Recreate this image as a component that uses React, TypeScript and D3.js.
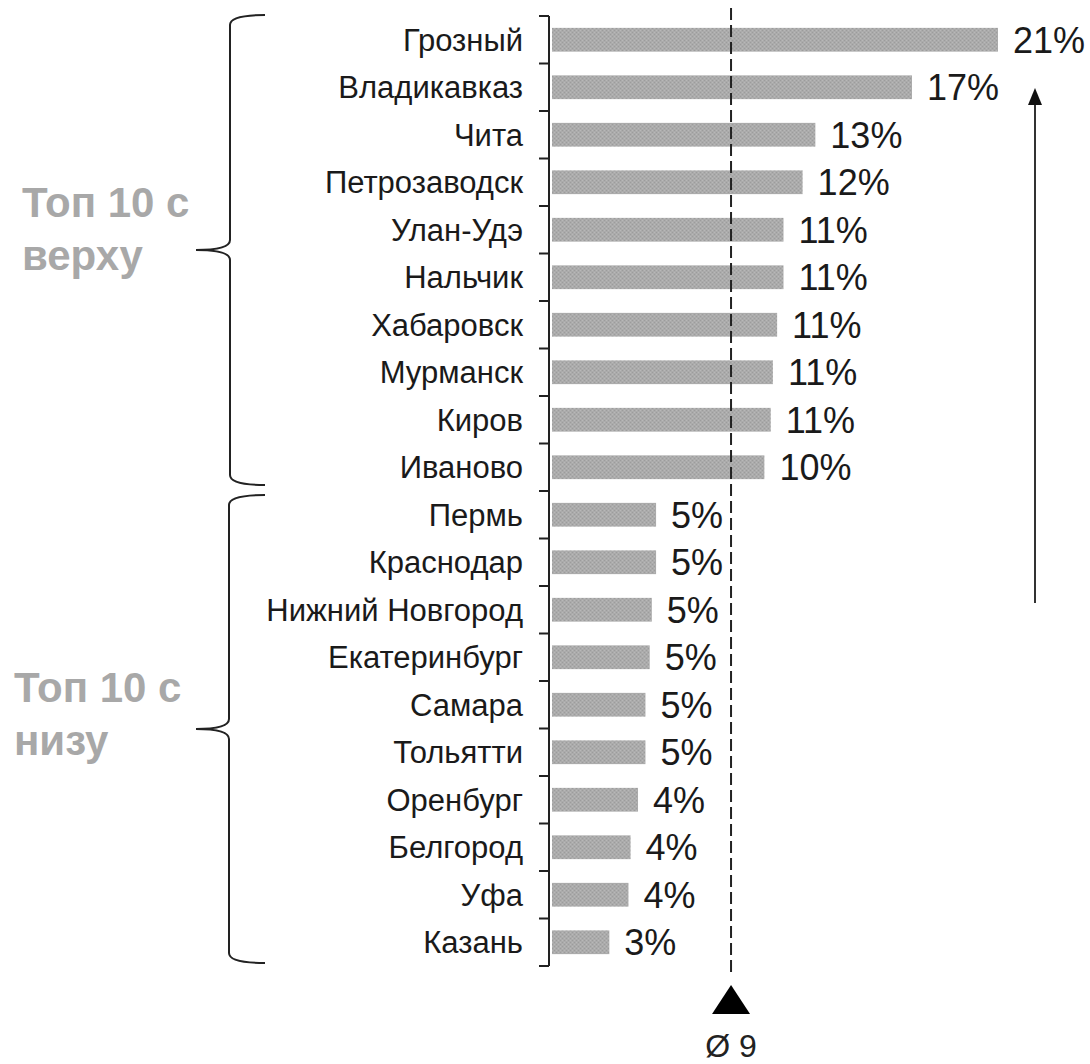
import React from "react";
import * as d3 from "d3";

const cities = [
  "Грозный", "Владикавказ", "Чита", "Петрозаводск", "Улан-Удэ",
  "Нальчик", "Хабаровск", "Мурманск", "Киров", "Иваново",
  "Пермь", "Краснодар", "Нижний Новгород", "Екатеринбург", "Самара",
  "Тольятти", "Оренбург", "Белгород", "Уфа", "Казань",
];
const values = [
  21.0, 16.95, 12.4, 11.8, 10.9,
  10.9, 10.6, 10.4, 10.3, 10.0,
  4.9, 4.9, 4.7, 4.6, 4.4,
  4.4, 4.05, 3.7, 3.6, 2.7,
];
const valueLabels = [
  "21%", "17%", "13%", "12%", "11%",
  "11%", "11%", "11%", "11%", "10%",
  "5%", "5%", "5%", "5%", "5%",
  "5%", "4%", "4%", "4%", "3%",
];
const averageValue = 8.43;
const averageLabel = "Ø 9";
const groupLabels = [
  ["Топ 10 с", "верху"],
  ["Топ 10 с", "низу"],
];

const W = 1090;
const H = 1064;
const FONT = "'Liberation Sans', Arial, sans-serif";

export default function App() {
  const x = d3.scaleLinear().domain([0, 21]).range([552, 998]);
  const y = d3
    .scaleBand<string>()
    .domain(cities)
    .range([16, 966])
    .paddingInner(0.5)
    .paddingOuter(0.25);
  const step = y.step();
  const first = (y(cities[0]) as number) - (step - y.bandwidth()) / 2;
  const tickYs = d3.range(cities.length + 1).map((i) => first + i * step);
  const axisX = 549;
  const avgX = x(averageValue);

  const brace = (top: number, bottom: number, xv: number, tipX: number, midX: number) => {
    const mid = (top + bottom) / 2;
    const p = d3.path();
    p.moveTo(tipX, top);
    p.quadraticCurveTo(xv, top, xv, top + 10);
    p.lineTo(xv, mid - 10);
    p.quadraticCurveTo(xv, mid, midX, mid);
    p.quadraticCurveTo(xv, mid, xv, mid + 10);
    p.lineTo(xv, bottom - 10);
    p.quadraticCurveTo(xv, bottom, tipX, bottom);
    return p.toString();
  };

  return (
    <svg
      width={W}
      height={H}
      style={{ position: "absolute", left: 0, top: 0, background: "#fff" }}
      fontFamily={FONT}
    >
      <defs>
        <pattern id="tex" width="4" height="4" patternUnits="userSpaceOnUse">
          <rect width="4" height="4" fill="#ababab" />
          <rect x="0" y="0" width="1" height="1" fill="#9c9c9c" />
          <rect x="2" y="2" width="1" height="1" fill="#9c9c9c" />
          <rect x="2" y="0" width="1" height="1" fill="#b8b8b8" />
          <rect x="0" y="2" width="1" height="1" fill="#b8b8b8" />
        </pattern>
      </defs>
      {/* bars */}
      {cities.map((c, i) => (
        <rect
          key={c}
          x={x(0)}
          y={y(c)}
          width={x(values[i]) - x(0)}
          height={y.bandwidth()}
          fill="url(#tex)"
        />
      ))}
      {/* average dashed line */}
      <line
        x1={avgX}
        x2={avgX}
        y1={8}
        y2={975}
        stroke="#222"
        strokeWidth={2}
        strokeDasharray="12,5"
      />
      <path
        d={`M${avgX},985 L${avgX + 19},1014 L${avgX - 19},1014 Z`}
        fill="#000"
      />
      <text x={avgX} y={1057} textAnchor="middle" fontSize={32} fill="#222">
        {averageLabel}
      </text>
      {/* axis */}
      <line x1={axisX} x2={axisX} y1={tickYs[0]} y2={tickYs[tickYs.length - 1]} stroke="#222" strokeWidth={2} />
      {tickYs.map((ty, i) => (
        <line key={i} x1={539} x2={axisX} y1={ty} y2={ty} stroke="#222" strokeWidth={2} />
      ))}
      {/* category labels */}
      {cities.map((c) => (
        <text
          key={c}
          x={523}
          y={(y(c) as number) + y.bandwidth() / 2}
          dy="0.35em"
          textAnchor="end"
          fontSize={31}
          fill="#1a1a1a"
        >
          {c}
        </text>
      ))}
      {/* value labels */}
      {cities.map((c, i) => (
        <text
          key={c}
          x={x(values[i]) + 15}
          y={(y(c) as number) + y.bandwidth() / 2}
          dy="0.36em"
          fontSize={36}
          fill="#1a1a1a"
        >
          {valueLabels[i]}
        </text>
      ))}
      {/* braces */}
      <path d={brace(15, 485, 230, 265, 196)} fill="none" stroke="#222" strokeWidth={2} />
      <path d={brace(495, 963, 229, 265, 196)} fill="none" stroke="#222" strokeWidth={2} />
      {/* group labels */}
      <text x={22} y={217} fontSize={42} fontWeight="bold" fill="#a8a8a8">
        <tspan x={22}>{groupLabels[0][0]}</tspan>
        <tspan x={22} dy={53}>{groupLabels[0][1]}</tspan>
      </text>
      <text x={14} y={702} fontSize={42} fontWeight="bold" fill="#a8a8a8">
        <tspan x={14}>{groupLabels[1][0]}</tspan>
        <tspan x={14} dy={53}>{groupLabels[1][1]}</tspan>
      </text>
      {/* upward arrow */}
      <line x1={1035} x2={1035} y1={603} y2={100} stroke="#333" strokeWidth={2} />
      <path d="M1035,88 L1042,105 L1028,105 Z" fill="#111" />
    </svg>
  );
}
